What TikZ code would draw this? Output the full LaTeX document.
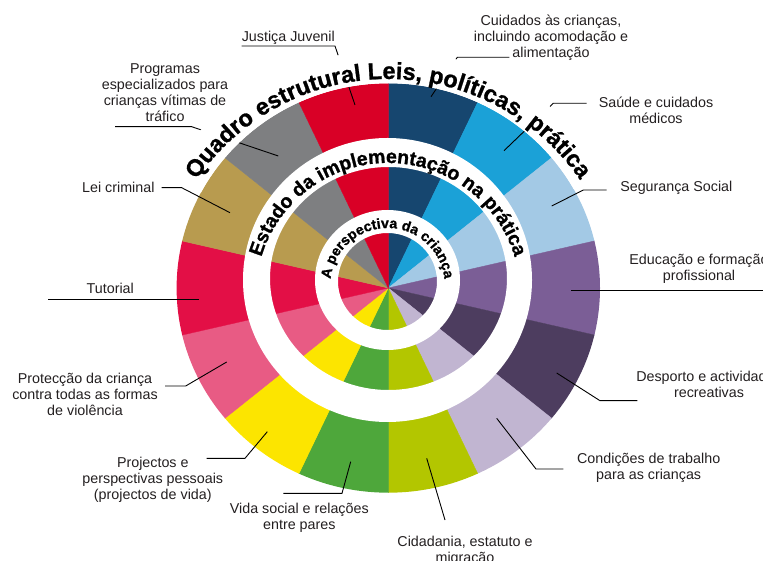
\documentclass[tikz,border=0pt]{standalone}
\usepackage{fontspec}
\setmainfont{Liberation Sans}
\newfontfamily\heavyfont[FakeBold=1]{Liberation Sans Bold}
\usetikzlibrary{decorations.text,calc}

\definecolor{cNavy}{HTML}{16466F}
\definecolor{cBlue}{HTML}{1BA1D7}
\definecolor{cSky}{HTML}{A3C9E5}
\definecolor{cViolet}{HTML}{7B5E96}
\definecolor{cPlum}{HTML}{4D3D5F}
\definecolor{cLilac}{HTML}{C1B5D1}
\definecolor{cLime}{HTML}{B3C600}
\definecolor{cGreen}{HTML}{4EA73B}
\definecolor{cYellow}{HTML}{FCE500}
\definecolor{cPink}{HTML}{E85B84}
\definecolor{cCrimson}{HTML}{E30F46}
\definecolor{cTan}{HTML}{B89B4F}
\definecolor{cGrey}{HTML}{7E7F81}
\definecolor{cRed}{HTML}{D90026}
\definecolor{labelgray}{HTML}{231F20}

\begin{document}
\begin{tikzpicture}[x=1pt,y=1pt,
  lbl/.style={font=\fontsize{14.3}{16}\selectfont, text=labelgray, align=center, inner sep=0pt},
  leader/.style={draw=black, line width=0.9pt},
  ringtext/.style={decorate, decoration={text along path, text align=center, text={#1}}}]
\useasboundingbox (0,0) rectangle (763,560);
\clip (0,0) rectangle (763,560);

% centres of the wheel, of the white bands and of the title arcs
\coordinate (C) at (388.3,272);
\coordinate (bandOutA) at (387.5,280);
\coordinate (bandOutB) at (388.5,281.5);
\coordinate (bandInA) at (387.5,280);
\coordinate (bandInB) at (387.5,278.5);
\coordinate (W) at (388.3,248.5);
\coordinate (E) at (388,264.7);
\coordinate (P) at (387.5,274.8);

% fourteen coloured wedges
\begin{scope}
  \clip (C) ellipse [x radius=211.7, y radius=204.7];
  \foreach \col [count=\i] in {cNavy,cBlue,cSky,cViolet,cPlum,cLilac,cLime,cGreen,cYellow,cPink,cCrimson,cTan,cGrey,cRed}{
    \pgfmathsetmacro\aa{90-(\i-1)*360/14}
    \pgfmathsetmacro\ab{90-(\i-0.5)*360/14}
    \pgfmathsetmacro\ac{90-\i*360/14}
    \fill[fill=\col, draw=\col, line width=0.4pt] (C) -- +(\aa:400) -- +(\ab:400) -- +(\ac:400) -- cycle;
  }
\end{scope}

% white separating bands
\fill[white, even odd rule] (bandOutA) ellipse [x radius=144.5, y radius=142]
                            (bandOutB) ellipse [x radius=118.5, y radius=111.5];
\fill[white, even odd rule] (bandInA) ellipse [x radius=72.5, y radius=70]
                            (bandInB) ellipse [x radius=49.5, y radius=48.5];

% labels
\node[lbl] (lJus) at (288.3,522) {Justiça Juvenil};
\node[lbl] (lProg) at (165,467.8) {Programas\\especializados para\\crianças vítimas de\\tráfico};
\node[lbl] (lLei) at (118.3,372.3) {Lei criminal};
\node[lbl] (lTut) at (110.3,271.7) {Tutorial};
\node[lbl] (lProt) at (85,165.3) {Protecção da criança\\contra todas as formas\\de violência};
\node[lbl] (lProj) at (152.8,79.7) {Projectos e\\perspectivas pessoais\\(projectos de vida)};
\node[lbl] (lVida) at (299.3,42.5) {Vida social e relações\\entre pares};
\node[lbl] (lCid) at (465,9) {Cidadania, estatuto e\\migração};
\node[lbl] (lCond) at (648.7,92) {Condições de trabalho\\para as crianças};
\node[lbl] (lDesp) at (709,176) {Desporto e actividades\\recreativas};
\node[lbl] (lEdu) at (699,291) {Educação e formação\\profissional};
\node[lbl] (lSeg) at (676.3,371.7) {Segurança Social};
\node[lbl] (lSau) at (656,450) {Saúde e cuidados\\médicos};
\node[lbl] (lCui) at (551,522.4) {Cuidados às crianças,\\incluindo acomodação e\\alimentação};

% leader line points
\coordinate (jus1) at (241.7,514);   \coordinate (jus2) at (335,514);   \coordinate (jus3) at (355,455);
\coordinate (pro1) at (115,433.3);   \coordinate (pro2) at (191.7,433.3); \coordinate (pro3) at (278.3,404);
\coordinate (lei1) at (161.7,372.3); \coordinate (lei2) at (181.7,372.3); \coordinate (lei3) at (230,347.3);
\coordinate (tut1) at (48.3,260.7);  \coordinate (tut2) at (199,260.7);
\coordinate (prt1) at (165,174);     \coordinate (prt2) at (185.7,174); \coordinate (prt3) at (226.7,198);
\coordinate (prj1) at (206.7,101.7); \coordinate (prj2) at (245,101.7); \coordinate (prj3) at (267.3,128.3);
\coordinate (vid1) at (283.3,66.7);  \coordinate (vid2) at (342,66.7);  \coordinate (vid3) at (350.7,98.3);
\coordinate (cid1) at (445,40);      \coordinate (cid2) at (426.7,101.7);
\coordinate (con1) at (563.3,91);    \coordinate (con2) at (536,91);    \coordinate (con3) at (496.7,141.7);
\coordinate (des1) at (637.3,159.3); \coordinate (des2) at (600,159.3); \coordinate (des3) at (556.7,187);
\coordinate (edu1) at (770,270);     \coordinate (edu2) at (571,270);
\coordinate (seg1) at (606.7,370);   \coordinate (seg2) at (583.3,370); \coordinate (seg3) at (551.7,354);
\coordinate (sau1) at (586.7,456.7); \coordinate (sau2) at (553.3,456.7); \coordinate (sau3) at (504,409.3);
\coordinate (cui1) at (509.3,502.7); \coordinate (cui2) at (457.3,502.7); \coordinate (cui3) at (431,463.3);

\draw[leader] (jus1) -- (jus2) -- (jus3);
\draw[leader] (pro1) -- (pro2) -- (pro3);
\draw[leader] (lei1) -- (lei2) -- (lei3);
\draw[leader] (tut1) -- (tut2);
\draw[leader] (prt1) -- (prt2) -- (prt3);
\draw[leader] (prj1) -- (prj2) -- (prj3);
\draw[leader] (vid1) -- (vid2) -- (vid3);
\draw[leader] (cid1) -- (cid2);
\draw[leader] (con1) -- (con2) -- (con3);
\draw[leader] (des1) -- (des2) -- (des3);
\draw[leader] (edu1) -- (edu2);
\draw[leader] (seg1) -- (seg2) -- (seg3);
\draw[leader] (sau1) -- (sau2) -- (sau3);
\draw[leader] (cui1) -- (cui2) -- (cui3);

% white backing under the outer title
\begin{scope}
  \clip (C) -- ($(C)+(28:300)$) arc [start angle=28, end angle=153, radius=300] -- cycle;
  \fill[white, even odd rule] (W) circle [radius=261] (C) ellipse [x radius=211.7, y radius=204.7];
\end{scope}

% curved titles
\path[ringtext={|\heavyfont\fontsize{23.5}{23.5}\selectfont|Quadro estrutural Leis{,} políticas{,} prática}]
  ($(W)+(165:232.5)$) arc [start angle=165, end angle=15, radius=232.5];
\path[ringtext={|\heavyfont\fontsize{19.5}{19.5}\selectfont|Estado da implementação na prática}]
  ($(E)+(175:132.3)$) arc [start angle=175, end angle=5, radius=132.3];
\path[ringtext={|\heavyfont\fontsize{14.2}{14.2}\selectfont|A perspectiva da criança}]
  ($(P)+(180:57.2)$) arc [start angle=180, end angle=0, radius=57.2];
\end{tikzpicture}
\end{document}
